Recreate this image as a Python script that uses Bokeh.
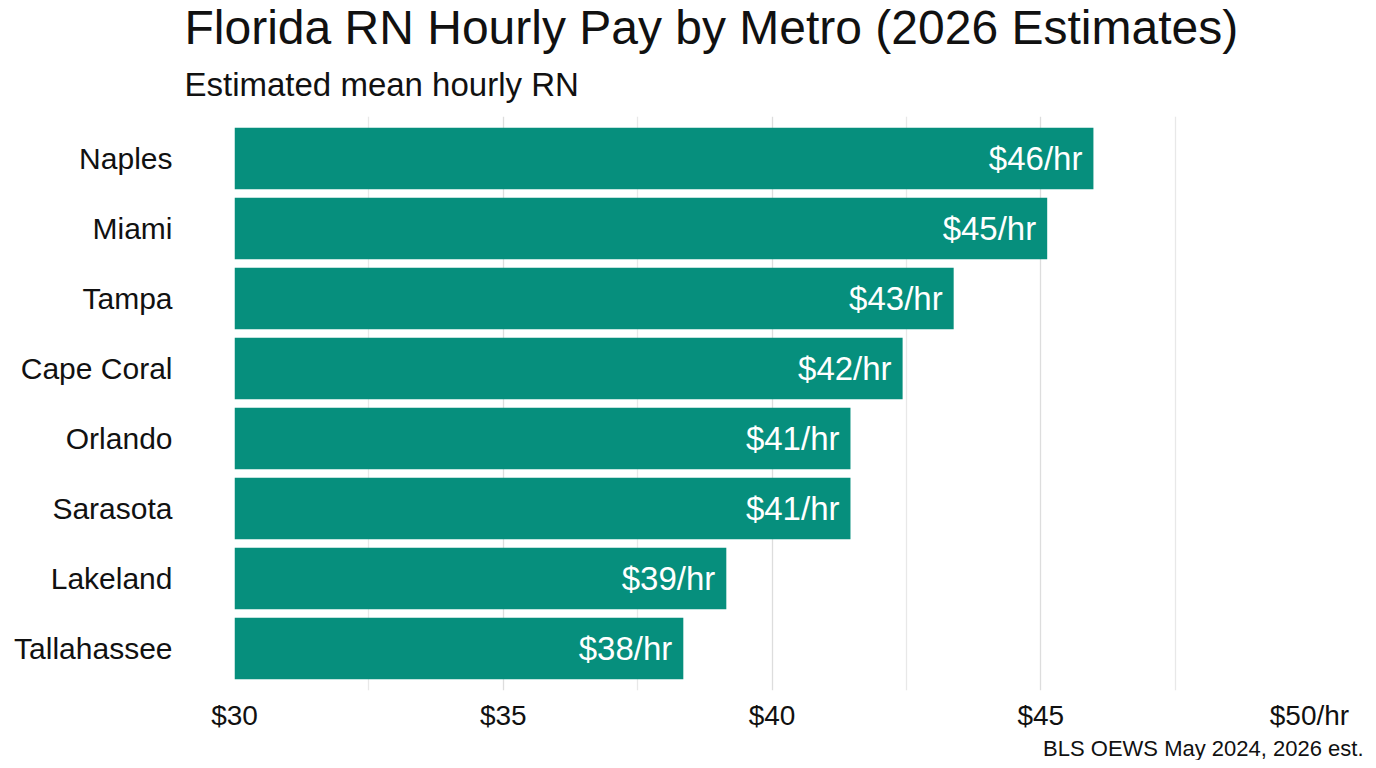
from bokeh.plotting import figure
from bokeh.models import ColumnDataSource, Range1d, FixedTicker, Title
from bokeh.embed import file_html
from bokeh.resources import INLINE

metros = ["Tallahassee", "Lakeland", "Sarasota", "Orlando", "Cape Coral", "Tampa", "Miami", "Naples"]
pay = [38.35, 39.15, 41.46, 41.46, 42.43, 43.38, 45.12, 45.98]
x_ticks = [30, 35, 40, 45, 50]
x_tick_labels = ["$30", "$35", "$40", "$45", "$50/hr"]
minor_ticks = [32.5, 37.5, 42.5, 47.5]

FONT = "Liberation Sans"
BAR = "#068f7d"

src = ColumnDataSource(dict(
    y=list(range(len(metros))),
    pay=pay,
    left=[30] * len(pay),
    lbl=["$%d/hr" % round(v) for v in pay],
))

p = figure(width=1368, height=760, output_backend="svg", toolbar_location=None,
           x_range=Range1d(30, 50), y_range=Range1d(-0.6, len(metros) - 0.4),
           min_border_left=234, min_border_right=59, min_border_top=116, min_border_bottom=0)
p.title = None
p.outline_line_color = None
p.background_fill_color = "white"

p.hbar(y="y", left="left", right="pay", height=0.88, source=src,
       fill_color=BAR, line_color=None)
p.text(x="pay", y="y", text="lbl", source=src, text_align="right", text_baseline="middle",
       x_offset=-11, text_color="white", text_font_size="33px", text_font={"value": FONT})

p.xaxis.ticker = FixedTicker(ticks=x_ticks, minor_ticks=minor_ticks)
p.xaxis.major_label_overrides = {t: l for t, l in zip(x_ticks, x_tick_labels)}
p.yaxis.ticker = FixedTicker(ticks=list(range(len(metros))))
p.yaxis.major_label_overrides = {i: m for i, m in enumerate(metros)}

for ax in (p.xaxis[0], p.yaxis[0]):
    ax.axis_line_color = None
    ax.major_tick_line_color = None
    ax.minor_tick_line_color = None
    ax.major_label_text_font = FONT
    ax.major_label_text_color = "#111111"
p.xaxis.major_label_text_font_size = "28px"
p.xaxis.major_label_standoff = 3
p.yaxis.major_label_text_font_size = "30px"
p.yaxis.major_label_standoff = 56

p.ygrid.grid_line_color = None
p.xgrid.grid_line_color = "#dddddd"
p.xgrid.grid_line_width = 1.3
p.xgrid.minor_grid_line_color = "#e8e8e8"
p.xgrid.minor_grid_line_width = 1.3

p.add_layout(Title(text="Estimated mean hourly RN", text_font=FONT, text_font_size="33px",
                   text_font_style="normal", text_color="#111111", align="left", offset=-50,
                   standoff=27), "above")
p.add_layout(Title(text="Florida RN Hourly Pay by Metro (2026 Estimates)", text_font=FONT,
                   text_font_size="48px", text_font_style="normal", text_color="#111111",
                   align="left", offset=-50, standoff=-6), "above")
p.add_layout(Title(text="BLS OEWS May 2024, 2026 est.", text_font=FONT, text_font_size="22px",
                   text_font_style="normal", text_color="#111111", align="right", offset=-54,
                   standoff=0), "below")

open("out.html", "w").write(file_html(p, INLINE))
